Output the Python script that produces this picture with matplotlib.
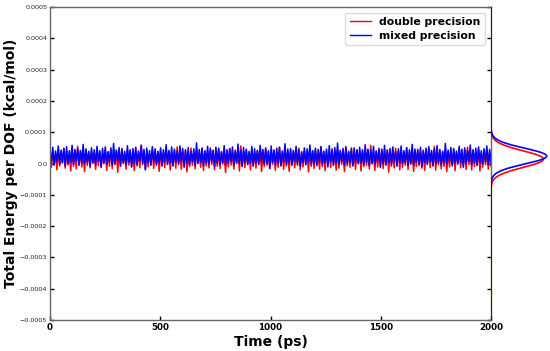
import numpy as np
import matplotlib.pyplot as plt

# Total energy per DOF, units of 1e-5 kcal/mol, sampled evenly over 0-2000 ps
double_e5 = [
    3.6, -1.2, 4.1, -0.3, 3.0, -2.0, 4.4, -0.8, 3.3, 0.1, 4.7, -1.5, 3.8, -0.5, 2.9, -2.4,
    4.2, -0.9, 3.5, -1.7, 5.5, -0.2, 3.9, -1.1, 3.1, -2.6, 4.5, -0.6, 3.7, -1.4, 4.0, 0.2,
    3.2, -1.9, 4.6, -0.7, 3.8, -1.3, 2.8, -0.1, 4.3, -2.2, 3.6, -0.9, 5.1, -1.6, 3.4, -0.4,
    4.1, -2.8, 3.3, -1.0, 4.8, 0.0, 3.0, -1.8, 3.9, -0.5, 4.4, -1.2, 2.7, -2.3, 4.6, -0.8,
    3.5, -1.4, 5.7, -0.3, 3.7, -2.0, 4.0, -1.1, 3.2, 0.3, 4.5, -1.6, 3.6, -0.6, 3.9, -2.5,
    4.3, -0.9, 3.1, -1.3, 4.7, -0.2, 3.8, -2.1, 2.9, -0.7, 4.2, -1.5, 5.3, -0.4, 3.4, -1.9,
    3.7, -0.1, 4.4, -2.7, 3.2, -1.0, 4.9, -0.6, 3.6, -1.7, 4.1, 0.1, 3.0, -1.2, 4.6, -2.2,
    3.9, -0.8, 3.4, -1.4, 5.0, -0.3, 4.2, -2.0, 3.1, -0.9, 4.5, -1.6, 3.7, -0.2, 2.8, -2.9,
    4.0, -1.1, 4.8, -0.5, 3.3, -1.8, 4.3, 0.0, 3.6, -2.4, 5.6, -0.7, 3.8, -1.3, 4.1, -0.4,
    3.2, -2.1, 4.6, -0.9, 3.5, -1.5, 4.0, -0.1, 4.4, -2.6, 3.0, -1.0, 4.7, -0.6, 3.9, -1.7,
    3.4, -0.3, 4.2, -2.2, 3.8, -1.2, 5.2, -0.5, 3.1, -1.9, 4.5, -0.8, 3.6, -2.5, 4.3, 0.2,
    3.7, -1.4, 2.9, -0.6, 4.9, -2.0, 3.5, -1.1, 4.1, -0.2, 3.3, -2.7, 4.6, -0.9, 3.9, -1.6,
    4.4, -0.4, 3.2, -1.8, 5.4, -1.0, 3.7, -2.3, 4.0, -0.1, 3.6, -1.3, 4.8, -0.7, 3.0, -2.1,
    4.2, -1.5, 3.9, -0.3, 3.4, -2.6, 4.7, -0.8, 3.8, -1.2, 5.0, -0.5, 3.1, -1.9, 4.3, 0.0,
    3.6, -2.4, 4.5, -1.0, 3.3, -0.6, 4.1, -1.7, 5.8, -0.2, 3.5, -2.2, 4.0, -1.1, 3.8, -0.7,
    4.6, -1.6, 3.2, -0.4, 4.4, -2.8, 3.7, -0.9, 3.0, -1.4, 4.9, -0.1, 3.9, -2.0, 4.2, -1.2,
    3.5, -0.6, 5.1, -1.9, 3.8, -0.3, 4.0, -2.5, 3.3, -1.0, 4.6, -0.7, 3.6, -1.5, 4.3, -2.2,
    3.1, -0.2, 4.7, -1.3, 3.9, -0.8, 5.5, -2.1, 3.4, -0.4, 4.1, -1.7, 3.7, -0.9, 4.5, -2.6,
    3.8, -1.1, 3.2, -0.5, 4.4, -2.3, 3.6, 0.1, 4.8, -1.4, 3.0, -0.7, 4.2, -1.9, 5.2, -0.3,
    3.5, -2.0, 4.0, -1.0, 3.7, -0.6, 4.6, -2.4, 3.3, -1.2, 4.3, -0.4, 3.9, -1.8, 3.6, -0.8,
]
mixed_e5 = [
    4.7, 0.1, 5.2, -0.5, 4.0, 0.6, 5.6, -0.2, 4.3, 0.3, 4.9, -0.9, 5.4, 0.0, 4.1, 0.5,
    5.8, -0.3, 4.5, 0.8, 4.8, -0.6, 4.2, 0.2, 6.1, -0.1, 4.6, 0.4, 3.9, -0.8, 5.0, 0.1,
    4.4, -0.4, 5.5, 0.7, 4.1, -1.1, 4.9, 0.3, 5.3, -0.2, 3.8, 0.5, 4.7, -0.5, 6.4, 0.0,
    4.3, 0.6, 5.1, -0.7, 4.6, 0.2, 3.9, -0.3, 5.7, 0.4, 4.2, -0.9, 4.8, 0.1, 5.2, -0.4,
    4.0, 0.8, 5.9, -0.1, 4.5, -2.0, 4.9, 0.3, 4.1, -0.6, 5.4, 0.5, 4.7, -0.2, 3.8, 0.0,
    5.0, -0.5, 4.4, 0.6, 6.0, -0.3, 4.2, 0.2, 5.3, -0.8, 4.6, 0.4, 4.0, -0.1, 5.6, 0.7,
    4.8, -1.2, 4.3, 0.1, 5.1, -0.4, 3.9, 0.5, 4.7, -0.6, 6.6, 0.0, 4.5, 0.3, 5.0, -0.7,
    4.1, 0.2, 5.5, -0.2, 4.6, 0.6, 4.2, -0.9, 5.2, 0.1, 4.9, -0.3, 3.8, 0.4, 5.7, -0.5,
    4.4, 0.0, 4.8, 0.7, 5.3, -0.6, 4.0, 0.2, 6.2, -0.1, 4.3, -1.0, 5.1, 0.5, 4.6, -0.3,
    3.9, 0.3, 5.4, -0.7, 4.7, 0.1, 4.2, -0.4, 5.8, 0.6, 4.5, -0.2, 5.0, 0.0, 4.1, -1.5,
    5.6, 0.4, 4.3, -0.5, 4.9, 0.2, 5.2, -0.8, 4.0, 0.5, 6.3, -0.3, 4.6, 0.1, 4.8, -0.6,
    4.2, 0.7, 5.5, -0.1, 4.4, -0.9, 3.8, 0.3, 5.0, -0.4, 4.7, 0.6, 5.9, -0.2, 4.1, 0.0,
    4.9, -0.7, 4.5, 0.4, 5.3, -0.3, 4.0, 0.2, 4.6, -1.1, 5.7, 0.5, 4.3, -0.5, 5.1, 0.1,
    6.5, -0.2, 4.2, 0.6, 4.8, -0.6, 5.4, 0.0, 3.9, 0.3, 4.7, -0.8, 5.0, 0.4, 4.4, -0.1,
    5.2, 0.2, 4.1, -0.4, 6.0, 0.5, 4.6, -0.7, 4.3, 0.1, 5.5, -0.3, 4.0, 0.7, 4.9, -1.3,
    4.5, 0.0, 5.8, -0.5, 4.2, 0.4, 4.8, -0.2, 5.3, 0.6, 3.8, -0.9, 4.7, 0.2, 5.6, -0.1,
    4.1, 0.3, 5.0, -0.6, 4.4, 0.1, 6.1, -0.4, 4.6, 0.5, 4.3, -0.2, 5.2, -1.0, 4.0, 0.4,
    4.9, -0.3, 5.4, 0.6, 4.2, -0.7, 4.7, 0.0, 5.7, 0.2, 4.5, -0.5, 3.9, 0.3, 6.4, -0.1,
    4.3, 0.5, 5.1, -0.8, 4.8, 0.1, 4.0, -0.2, 5.5, 0.4, 4.6, -1.2, 5.0, 0.0, 4.2, 0.6,
    5.9, -0.4, 4.4, 0.2, 4.9, -0.6, 5.3, 0.3, 4.1, -0.1, 4.7, 0.5, 5.6, -0.3, 4.5, 0.1,
]
t_start, t_end = 0, 2000
labels = ['double precision', 'mixed precision']
colors = ['red', 'blue']
yticks = [0.0005, 0.0004, 0.0003, 0.0002, 0.0001, 0.0, -0.0001, -0.0002, -0.0003, -0.0004, -0.0005]
ytick_labels = ['0.0005', '0.0004', '0.0003', '0.0002', '0.0001', '0.0',
                '\u22120.0001', '\u22120.0002', '\u22120.0003', '\u22120.0004', '\u22120.0005']
xticks = [0, 500, 1000, 1500, 2000]
ylo, yhi = -0.0005, 0.0005

series = [np.array(double_e5) * 1e-5, np.array(mixed_e5) * 1e-5]

fig = plt.figure(figsize=(5.5, 3.51), dpi=100)
ax = fig.add_axes([50/550, 1 - 320/351, 441/550, 313/351])

for y, c, lab in zip(series, colors, labels):
    t = np.linspace(t_start, t_end, len(y))
    ax.plot(t, y, color=c, lw=1.1, label=lab)

ax.set_xlim(t_start, t_end)
ax.set_ylim(ylo, yhi)
ax.set_yticks(yticks)
ax.set_yticklabels(ytick_labels, fontsize=4.6, color='#222222')
ax.set_xticks(xticks)
ax.set_xticklabels([str(x) for x in xticks], fontsize=6.3, fontweight='bold')
ax.tick_params(direction='in', length=3, width=1, pad=2, right=True, colors='black')
ax.tick_params(axis='y', labelcolor='#222222')
for s in ax.spines.values():
    s.set_color('#666666')
    s.set_linewidth(1)

ax.set_xlabel('Time (ps)', fontsize=10, fontweight='bold', labelpad=2)
ax.set_ylabel('Total Energy per DOF (kcal/mol)', fontsize=10, fontweight='bold', labelpad=1)

leg = ax.legend(loc='upper right', prop={'size': 7.8, 'weight': 'bold'},
                borderaxespad=0.55, handlelength=2.0, handletextpad=0.75,
                labelspacing=0.35, framealpha=1, edgecolor='#dddddd', fancybox=True)
for h in leg.get_lines():
    h.set_linewidth(1.0)

# marginal distribution on the right
axm = fig.add_axes([491/550, 1 - 320/351, 59/550, 313/351])
ygrid = np.linspace(ylo, yhi, 2000)
peak = 0
for y, c in zip(series, colors):
    mu, sd = y.mean(), y.std()
    pdf = np.exp(-0.5 * ((ygrid - mu) / sd) ** 2) / (sd * np.sqrt(2 * np.pi))
    peak = max(peak, pdf.max())
    axm.plot(pdf, ygrid, color=c, lw=1.2)
axm.set_ylim(ylo, yhi)
axm.set_xlim(0, peak * 1.06)
axm.axis('off')

fig.savefig('out.png', dpi=100)
